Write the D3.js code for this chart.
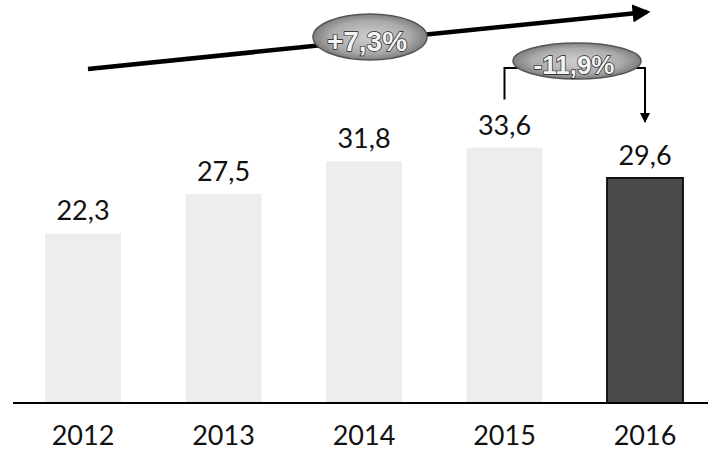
<!DOCTYPE html>
<html>
<head>
<meta charset="utf-8">
<script src="https://cdn.jsdelivr.net/npm/d3@7"></script>
<style>
  html, body { margin: 0; padding: 0; background: #fff; }
  svg { display: block; }
</style>
</head>
<body>
<svg id="chart" width="708" height="456"></svg>
<script>
// ---- data ----
const years = ["2012", "2013", "2014", "2015", "2016"];
const values = [22.3, 27.5, 31.8, 33.6, 29.6];
const valueLabels = ["22,3", "27,5", "31,8", "33,6", "29,6"];
const highlightYear = "2016";
const totalChangeLabel = "+7,3%";
const lastChangeLabel = "-11,9%";

// ---- layout ----
const W = 708, H = 456;
const baseY = 403;
const svg = d3.select("#chart");

const x = d3.scaleBand()
  .domain(years)
  .range([12.75, 715.25])
  .paddingInner(0.46)
  .paddingOuter(0.23);

const y = d3.scaleLinear()
  .domain([0, 29.6])
  .range([baseY, 178]);

const defs = svg.append("defs");
const grad = defs.append("radialGradient").attr("id", "ellGrad");
grad.append("stop").attr("offset", "0%").attr("stop-color", "#d0d0d0");
grad.append("stop").attr("offset", "70%").attr("stop-color", "#ababab");
grad.append("stop").attr("offset", "100%").attr("stop-color", "#7f7f7f");

// bars
svg.append("g").selectAll("rect")
  .data(years)
  .join("rect")
  .attr("x", d => x(d))
  .attr("y", (d, i) => y(values[i]))
  .attr("width", x.bandwidth())
  .attr("height", (d, i) => baseY - y(values[i]))
  .attr("fill", d => d === highlightYear ? "#4a4a4a" : "#ededed")
  .attr("stroke", d => d === highlightYear ? "#111" : "none")
  .attr("stroke-width", 2);

// baseline
svg.append("line")
  .attr("x1", 13).attr("x2", W)
  .attr("y1", baseY).attr("y2", baseY)
  .attr("stroke", "#000").attr("stroke-width", 2);

// value labels
svg.append("g").selectAll("text")
  .data(years)
  .join("text")
  .attr("x", d => x(d) + x.bandwidth() / 2)
  .attr("y", (d, i) => y(values[i]) - 13)
  .attr("text-anchor", "middle")
  .attr("font-family", "Lato, 'Open Sans', sans-serif")
  .attr("font-size", 27)
  .attr("fill", "#111")
  .text((d, i) => valueLabels[i]);

// x axis labels
const xAxis = d3.axisBottom(x).tickSize(0).tickPadding(0);
const gx = svg.append("g").attr("transform", `translate(0,${baseY})`).call(xAxis);
gx.select(".domain").remove();
gx.selectAll("text")
  .attr("y", 42)
  .attr("dy", 0)
  .attr("font-family", "Lato, 'Open Sans', sans-serif")
  .attr("font-size", 27)
  .attr("fill", "#111");

// markers
defs.append("marker").attr("id", "bigHead")
  .attr("viewBox", "0 0 10 10").attr("refX", 8).attr("refY", 5)
  .attr("markerWidth", 4).attr("markerHeight", 4)
  .attr("markerUnits", "strokeWidth").attr("orient", "auto")
  .append("path").attr("d", "M0,0 L10,5 L0,10 z").attr("fill", "#000");
defs.append("marker").attr("id", "smallHead")
  .attr("viewBox", "0 0 10 10").attr("refX", 9).attr("refY", 5)
  .attr("markerWidth", 5).attr("markerHeight", 5)
  .attr("markerUnits", "strokeWidth").attr("orient", "auto")
  .append("path").attr("d", "M0,0 L10,5 L0,10 z").attr("fill", "#000");

const cx = d => x(d) + x.bandwidth() / 2;
const first = years[0], prev = years[years.length - 2], last = years[years.length - 1];

// overall trend arrow
svg.append("line")
  .attr("x1", cx(first) + 5).attr("y1", 69)
  .attr("x2", cx(last) + 2).attr("y2", 12)
  .attr("stroke", "#000").attr("stroke-width", 4.5)
  .attr("marker-end", "url(#bigHead)");

// bracket for last change
svg.append("path")
  .attr("d", `M${cx(prev)},${y(values[3]) - 48} L${cx(prev)},68 L${cx(last)},68 L${cx(last)},122`)
  .attr("fill", "none").attr("stroke", "#000").attr("stroke-width", 2)
  .attr("marker-end", "url(#smallHead)");

function badge(cxp, cyp, rx, ry, label, size, ty) {
  svg.append("ellipse")
    .attr("cx", cxp).attr("cy", cyp).attr("rx", rx).attr("ry", ry)
    .attr("fill", "url(#ellGrad)").attr("stroke", "#555").attr("stroke-width", 1.5);
  svg.append("text")
    .attr("x", cxp - 3).attr("y", ty)
    .attr("text-anchor", "middle")
    .attr("font-family", "'Liberation Sans', Arial, sans-serif")
    .attr("font-weight", "bold")
    .attr("font-size", size)
    .attr("fill", "#f4f4f4")
    .attr("stroke", "#222").attr("stroke-width", 1.4)
    .attr("paint-order", "stroke")
    .text(label);
}
badge(370, 37, 57, 23, totalChangeLabel, 28, 51);
badge(577, 61, 64, 18, lastChangeLabel, 26, 74);
</script>
</body>
</html>
